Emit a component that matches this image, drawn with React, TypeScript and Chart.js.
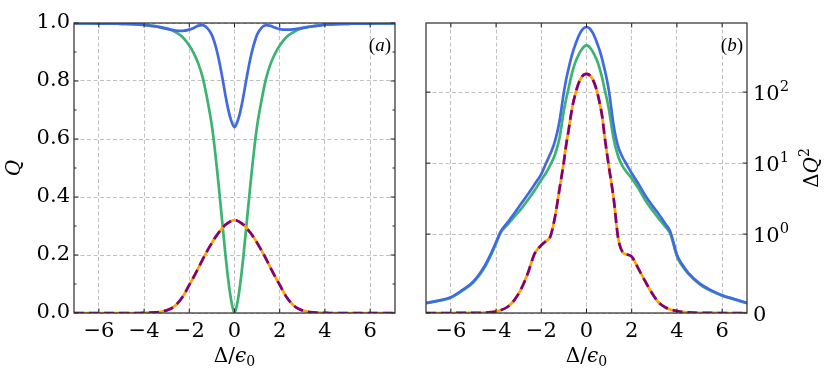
import React, { useEffect, useRef } from 'react';
import { Chart, Scale, registerables } from 'chart.js';

Chart.register(...registerables);

// ---------------- data ----------------
const X = [
  -7.1, -6.5, -6, -5.5, -5, -4.5, -4.2, -4, -3.8, -3.5, -3.2, -2.9, -2.6, -2.3, -2, -1.8, -1.6, -1.4, -1.2, -1,
  -0.9, -0.8, -0.7, -0.6, -0.5, -0.4, -0.3, -0.2, -0.1, 0, 0.1, 0.2, 0.3, 0.4, 0.5, 0.6, 0.7, 0.8, 0.9, 1,
  1.2, 1.4, 1.6, 1.8, 2, 2.3, 2.6, 2.9, 3.2, 3.5, 3.7, 4, 4.2, 4.5, 5, 5.5, 6, 6.5, 7.1,
];

// panel (a): Q
const Q_BLUE = [
  0.999, 0.999, 0.998, 0.998, 0.997, 0.996, 0.994, 0.993, 0.991, 0.988, 0.983, 0.978, 0.974, 0.973, 0.977, 0.983, 0.991, 0.993, 0.982, 0.958,
  0.937, 0.91, 0.877, 0.838, 0.795, 0.75, 0.71, 0.677, 0.654, 0.641, 0.654, 0.677, 0.71, 0.75, 0.795, 0.838, 0.877, 0.91, 0.937, 0.96,
  0.984, 0.993, 0.99, 0.984, 0.979, 0.977, 0.978, 0.982, 0.986, 0.989, 0.991, 0.994, 0.995, 0.996, 0.997, 0.998, 0.998, 0.999, 0.999,
];
const Q_GREEN = [
  0.999, 0.999, 0.998, 0.998, 0.997, 0.996, 0.995, 0.994, 0.992, 0.989, 0.985, 0.979, 0.968, 0.952, 0.922, 0.895, 0.86, 0.81, 0.735, 0.645,
  0.585, 0.515, 0.44, 0.36, 0.28, 0.2, 0.13, 0.07, 0.025, 0.0, 0.025, 0.07, 0.13, 0.2, 0.28, 0.36, 0.44, 0.515, 0.585, 0.645,
  0.735, 0.81, 0.86, 0.895, 0.922, 0.952, 0.968, 0.979, 0.985, 0.989, 0.991, 0.994, 0.995, 0.996, 0.997, 0.998, 0.998, 0.999, 0.999,
];
const Q_DASH = [
  0, 0, 0, 0, 0, 0, 0, 0.0005, 0.001, 0.002, 0.005, 0.012, 0.027, 0.055, 0.097, 0.125, 0.155, 0.186, 0.215, 0.242,
  0.255, 0.266, 0.277, 0.287, 0.296, 0.304, 0.31, 0.315, 0.319, 0.32, 0.319, 0.315, 0.31, 0.304, 0.296, 0.287, 0.277, 0.266, 0.255, 0.242,
  0.215, 0.186, 0.155, 0.125, 0.097, 0.055, 0.027, 0.012, 0.005, 0.002, 0.001, 0.0005, 0, 0, 0, 0, 0, 0, 0,
];

// panel (b): Delta Q^2
const DQ_BLUE = [
  0.127, 0.16, 0.2, 0.29, 0.4, 0.6, 0.77, 0.9, 1.08, 1.45, 1.95, 2.65, 3.6, 5.0, 7.0, 9.8, 13.5, 20, 38, 100,
  150, 210, 285, 370, 460, 560, 660, 745, 800, 825, 800, 745, 660, 560, 460, 370, 285, 210, 150, 100,
  34, 17, 12, 9.3, 7.2, 5.1, 3.5, 2.55, 1.9, 1.38, 1.1, 0.74, 0.63, 0.51, 0.375, 0.29, 0.226, 0.18, 0.128,
];
const DQ_GREEN = [
  0.123, 0.155, 0.194, 0.28, 0.39, 0.58, 0.75, 0.88, 1.05, 1.35, 1.75, 2.25, 3.0, 4.1, 5.8, 7.2, 9.4, 13, 22, 55,
  80, 110, 155, 205, 260, 310, 360, 405, 440, 455, 440, 405, 360, 310, 260, 205, 155, 110, 80, 55,
  22, 12.5, 9, 7.3, 6.1, 4.4, 3.0, 2.2, 1.65, 1.25, 1.03, 0.72, 0.61, 0.5, 0.365, 0.28, 0.22, 0.175, 0.124,
];
const DQ_DASH = [
  0, 0, 0, 0.001, 0.002, 0.005, 0.012, 0.02, 0.035, 0.076, 0.16, 0.3, 0.5, 0.75, 0.86, 0.91, 0.97, 1.7, 4.2, 10.5,
  18, 28, 45, 68, 92, 120, 145, 165, 177, 181, 177, 165, 145, 120, 92, 66, 44, 24, 14, 8.5,
  3.2, 0.95, 0.77, 0.74, 0.715, 0.56, 0.4, 0.25, 0.13, 0.07, 0.045, 0.025, 0.015, 0.007, 0.002, 0.001, 0, 0, 0,
];

const X_TICKS = [-6, -4, -2, 0, 2, 4, 6];
const Q_TICKS = [0, 0.2, 0.4, 0.6, 0.8, 1.0];
const Q_MINOR = [0.1, 0.3, 0.5, 0.7, 0.9];
const DQ_TICKS = [0, 1, 10, 100];
const DQ_BASES = ['0', '10', '10', '10'];
const DQ_EXPS = ['', '0', '1', '2'];

const X_MIN = -7.1;
const X_MAX = 7.1;
const DQ_MAX = 940;

// ---------------- styles ----------------
const FONT = '"DejaVu Serif", serif';
const BLUE = '#4169e1';
const GREEN = '#3cb371';
const ORANGE = '#ffa500';
const PURPLE = '#800080';
const TICK_SIZE = 21;

// ---------------- symlog scale ----------------
const LINSCALE_ADJ = 1 / (1 - 1 / 10);
const tf = (v: number) => {
  const a = Math.abs(v);
  return a <= 1 ? v * LINSCALE_ADJ : Math.sign(v) * (LINSCALE_ADJ + Math.log10(a));
};
const itf = (t: number) => {
  const a = Math.abs(t);
  return a <= LINSCALE_ADJ ? t / LINSCALE_ADJ : Math.sign(t) * Math.pow(10, a - LINSCALE_ADJ);
};

class SymlogScale extends Scale {
  static id = 'symlog';
  static defaults = {};
  _s0 = 0;
  _sr = 1;
  parse(raw: any) {
    const v = typeof raw === 'number' ? raw : Number(raw);
    return Number.isFinite(v) ? v : null;
  }
  determineDataLimits() {
    const { min, max } = (this as any).getMinMax(true);
    (this as any).min = Number.isFinite(min) ? min : 0;
    (this as any).max = Number.isFinite(max) ? max : 1;
  }
  buildTicks() {
    return DQ_TICKS.map((v) => ({ value: v }));
  }
  getLabelForValue(v: number) {
    return String(v);
  }
  configure() {
    super.configure();
    this._s0 = tf((this as any).min);
    this._sr = tf((this as any).max) - this._s0;
  }
  getPixelForValue(v: number) {
    if (v === undefined || v === null || isNaN(v)) return NaN;
    return (this as any).getPixelForDecimal((tf(v) - this._s0) / this._sr);
  }
  getValueForPixel(p: number) {
    return itf((this as any).getDecimalForPixel(p) * this._sr + this._s0);
  }
}
Chart.register(SymlogScale as any);

// ---------------- rich text ----------------
type Part = { t: string; italic?: boolean; scale?: number; dy?: number };

function drawRich(ctx: CanvasRenderingContext2D, parts: Part[], x: number, y: number, align: string, size: number, family = FONT) {
  const fontOf = (p: Part) => `${p.italic ? 'italic ' : ''}${size * (p.scale || 1)}px ${family}`;
  const widths = parts.map((p) => {
    ctx.font = fontOf(p);
    return ctx.measureText(p.t).width;
  });
  const total = widths.reduce((s, w) => s + w, 0);
  let cx = align === 'center' ? x - total / 2 : align === 'right' ? x - total : x;
  ctx.textAlign = 'left';
  ctx.textBaseline = 'alphabetic';
  parts.forEach((p, i) => {
    ctx.font = fontOf(p);
    ctx.fillText(p.t, cx, y + (p.dy || 0) * size);
    cx += widths[i];
  });
}

const decorPlugin = {
  id: 'decor',
  afterDraw(chart: any, _args: any, o: any) {
    const { ctx, chartArea: a } = chart;
    const xs = chart.scales.x;
    const ys = chart.scales.y;
    ctx.save();
    ctx.strokeStyle = '#222';
    ctx.lineWidth = 1;
    const seg = (x1: number, y1: number, x2: number, y2: number) => {
      ctx.beginPath();
      ctx.moveTo(x1, y1);
      ctx.lineTo(x2, y2);
      ctx.stroke();
    };
    for (const t of xs.ticks) {
      const px = xs.getPixelForValue(t.value);
      seg(px, a.bottom, px, a.bottom - 4.5);
      seg(px, a.top, px, a.top + 4.5);
    }
    for (const t of ys.ticks) {
      const py = ys.getPixelForValue(t.value);
      seg(a.left, py, a.left + 4.5, py);
      seg(a.right, py, a.right - 4.5, py);
    }
    for (const v of o.yMinor || []) {
      const py = ys.getPixelForValue(v);
      seg(a.left, py, a.left + 2.5, py);
      seg(a.right, py, a.right - 2.5, py);
    }
    ctx.lineWidth = 1.25;
    ctx.strokeStyle = '#333';
    ctx.strokeRect(a.left, a.top, a.right - a.left, a.bottom - a.top);

    ctx.fillStyle = '#000';
    // power-of-ten tick labels on the right axis
    if (o.powerLabels) {
      DQ_TICKS.forEach((v, i) => {
        const py = ys.getPixelForValue(v);
        const parts: Part[] = [{ t: DQ_BASES[i] }];
        if (DQ_EXPS[i]) parts.push({ t: DQ_EXPS[i], scale: 0.7, dy: -0.42 });
        drawRich(ctx, parts, a.right + 6, py + TICK_SIZE * 0.36, 'left', TICK_SIZE);
      });
    }
    drawRich(ctx, o.xTitle, (a.left + a.right) / 2, o.xTitleY, 'center', o.titleSize);
    ctx.save();
    ctx.translate(o.yTitleX, (a.top + a.bottom) / 2);
    ctx.rotate(-Math.PI / 2);
    drawRich(ctx, o.yTitle, 0, o.titleSize * 0.36, 'center', o.titleSize);
    ctx.restore();
    drawRich(ctx, o.panel, a.right - 4, o.panelY, 'right', o.panelSize, '"Liberation Serif", serif');
    ctx.restore();
  },
};

const fmtNum = (v: number) => (v < 0 ? '\u2212' + Math.abs(v) : String(v));

const xScale = () => ({
  type: 'linear',
  min: X_MIN,
  max: X_MAX,
  afterBuildTicks: (s: any) => {
    s.ticks = X_TICKS.map((v) => ({ value: v }));
  },
  afterFit: (s: any) => {
    s.height = 56;
  },
  ticks: {
    callback: (v: number) => fmtNum(v),
    font: { family: FONT, size: TICK_SIZE },
    color: '#000',
    padding: 6,
    maxRotation: 0,
    autoSkip: false,
  },
  grid: { color: '#b0b0b0', lineWidth: 0.8, drawTicks: false },
  border: { display: false, dash: [4, 2.5] },
});

const mkSets = (blue: number[], green: number[], dash: number[]) => [
  { label: 'dash', data: X.map((x, i) => ({ x, y: dash[i] })), borderColor: PURPLE, borderDash: [10, 5], order: 0 },
  { label: 'orange', data: X.map((x, i) => ({ x, y: dash[i] })), borderColor: ORANGE, order: 1 },
  { label: 'blue', data: X.map((x, i) => ({ x, y: blue[i] })), borderColor: BLUE, order: 2 },
  { label: 'green', data: X.map((x, i) => ({ x, y: green[i] })), borderColor: GREEN, order: 3 },
];

const common = {
  animation: false,
  responsive: false,
  maintainAspectRatio: false,
  devicePixelRatio: 1,
  events: [],
  elements: {
    point: { radius: 0 },
    line: { borderWidth: 2.7, cubicInterpolationMode: 'monotone', fill: false },
  },
};

export default function App() {
  const leftRef = useRef<HTMLCanvasElement>(null);
  const rightRef = useRef<HTMLCanvasElement>(null);

  useEffect(() => {
    const c1 = new Chart(leftRef.current as HTMLCanvasElement, {
      type: 'line',
      data: { datasets: mkSets(Q_BLUE, Q_GREEN, Q_DASH) as any },
      options: {
        ...common,
        layout: { padding: { top: 23, right: 15, left: 0, bottom: 0 } },
        plugins: {
          legend: { display: false },
          tooltip: { enabled: false },
          decor: {
            xTitle: [{ t: '\u0394/' }, { t: '\u03f5', italic: true }, { t: '0', scale: 0.7, dy: 0.22 }],
            xTitleY: 362,
            yTitle: [{ t: 'Q', italic: true }],
            yTitleX: 13,
            titleSize: 20,
            panel: [{ t: '(' }, { t: 'a', italic: true }, { t: ')' }],
            panelY: 51,
            panelSize: 19,
            yMinor: Q_MINOR,
            powerLabels: false,
          },
        },
        scales: {
          x: xScale(),
          y: {
            type: 'linear',
            min: 0,
            max: 1,
            afterBuildTicks: (s: any) => {
              s.ticks = Q_TICKS.map((v) => ({ value: v }));
            },
            afterFit: (s: any) => {
              s.width = 74;
            },
            ticks: {
              callback: (v: number) => v.toFixed(1),
              font: { family: FONT, size: TICK_SIZE },
              color: '#000',
              padding: 4,
            },
            grid: { color: '#b0b0b0', lineWidth: 0.8, drawTicks: false },
            border: { display: false, dash: [4, 2.5] },
          },
        },
      } as any,
      plugins: [decorPlugin as any],
    });

    const c2 = new Chart(rightRef.current as HTMLCanvasElement, {
      type: 'line',
      data: { datasets: mkSets(DQ_BLUE, DQ_GREEN, DQ_DASH) as any },
      options: {
        ...common,
        layout: { padding: { top: 23, right: 0, left: 16, bottom: 0 } },
        plugins: {
          legend: { display: false },
          tooltip: { enabled: false },
          decor: {
            xTitle: [{ t: '\u0394/' }, { t: '\u03f5', italic: true }, { t: '0', scale: 0.7, dy: 0.22 }],
            xTitleY: 362,
            yTitle: [{ t: '\u0394' }, { t: 'Q', italic: true }, { t: '2', scale: 0.7, dy: -0.45 }],
            yTitleX: 401,
            titleSize: 20,
            panel: [{ t: '(' }, { t: 'b', italic: true }, { t: ')' }],
            panelY: 51,
            panelSize: 19,
            yMinor: [],
            powerLabels: true,
          },
        },
        scales: {
          x: xScale(),
          y: {
            type: 'symlog',
            position: 'right',
            min: 0,
            max: DQ_MAX,
            afterFit: (s: any) => {
              s.width = 83;
            },
            ticks: { display: false },
            grid: { color: '#b0b0b0', lineWidth: 0.8, drawTicks: false },
            border: { display: false, dash: [4, 2.5] },
          },
        },
      } as any,
      plugins: [decorPlugin as any],
    });

    return () => {
      c1.destroy();
      c2.destroy();
    };
  }, []);

  return (
    <div style={{ position: 'absolute', left: 0, top: 0, width: 830, height: 369, background: '#fff' }}>
      <canvas
        ref={leftRef}
        width={410}
        height={369}
        style={{ position: 'absolute', left: 0, top: 0, width: 410, height: 369 }}
      />
      <canvas
        ref={rightRef}
        width={420}
        height={369}
        style={{ position: 'absolute', left: 410, top: 0, width: 420, height: 369 }}
      />
    </div>
  );
}
